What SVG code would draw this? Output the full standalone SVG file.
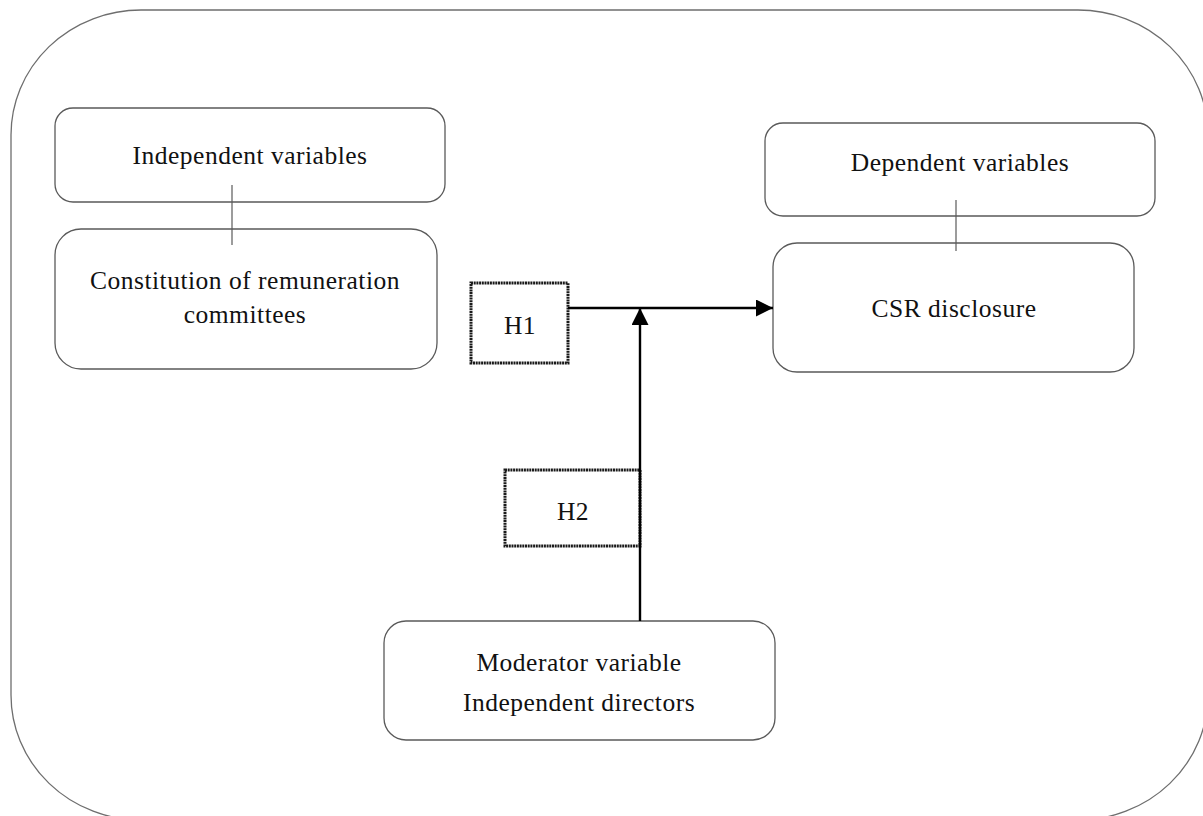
<svg xmlns="http://www.w3.org/2000/svg" width="1203" height="816" viewBox="0 0 1203 816">
<defs>
<style>
.frame{fill:none;stroke:#6e6e6e;stroke-width:1.3}
.box{fill:#fff;stroke:#5a5a5a;stroke-width:1.3}
.hbox{fill:#fff;stroke:#1a1a1a;stroke-width:3;stroke-dasharray:2 0.7}
.lbl{font-family:"Liberation Serif","Times New Roman",serif;font-size:25.5px;letter-spacing:0.5px;fill:#111;text-anchor:middle}
.thin{stroke:#5a5a5a;stroke-width:1.2;fill:none}
.arrow{stroke:#000;stroke-width:2.4;fill:none}
</style>
<marker id="ah" viewBox="0 0 10 10" refX="10" refY="5" markerWidth="17" markerHeight="17" markerUnits="userSpaceOnUse" orient="auto">
<path d="M0,0 L10,5 L0,10 Z" fill="#000"/>
</marker>
</defs>
<rect width="1203" height="816" fill="#fff"/>
<rect id="frame" class="frame" x="11" y="10" width="1197" height="810" rx="130" ry="125"/>

<g id="independent-header">
<rect class="box" x="55" y="108" width="390" height="94" rx="18"/>
<text class="lbl" x="250" y="164">Independent variables</text>
</g>
<g id="remuneration">
<rect class="box" x="55" y="229" width="382" height="140" rx="26"/>
<text class="lbl" x="245" y="289">Constitution of remuneration</text>
<text class="lbl" x="245" y="323">committees</text>
</g>
<g id="dependent-header">
<rect class="box" x="765" y="123" width="390" height="93" rx="18"/>
<text class="lbl" x="960" y="171">Dependent variables</text>
</g>
<g id="csr">
<rect class="box" x="773" y="243" width="361" height="129" rx="24"/>
<text class="lbl" x="954" y="317">CSR disclosure</text>
</g>
<g id="moderator">
<rect class="box" x="384" y="621" width="391" height="119" rx="22"/>
<text class="lbl" x="579" y="671">Moderator variable</text>
<text class="lbl" x="579" y="711">Independent directors</text>
</g>
<g id="h1">
<rect class="hbox" x="471" y="283" width="97" height="80"/>
<text class="lbl" x="520" y="334">H1</text>
</g>
<g id="h2">
<rect class="hbox" x="505" y="470" width="135" height="76"/>
<text class="lbl" x="573" y="520">H2</text>
</g>

<g id="connectors">
<line class="thin" x1="232" y1="185" x2="232" y2="245"/>
<line class="thin" x1="956" y1="200" x2="956" y2="251"/>
<line class="arrow" x1="568" y1="308" x2="773" y2="308" marker-end="url(#ah)"/>
<line class="arrow" x1="640" y1="621" x2="640" y2="308" marker-end="url(#ah)"/>
</g>
</svg>
